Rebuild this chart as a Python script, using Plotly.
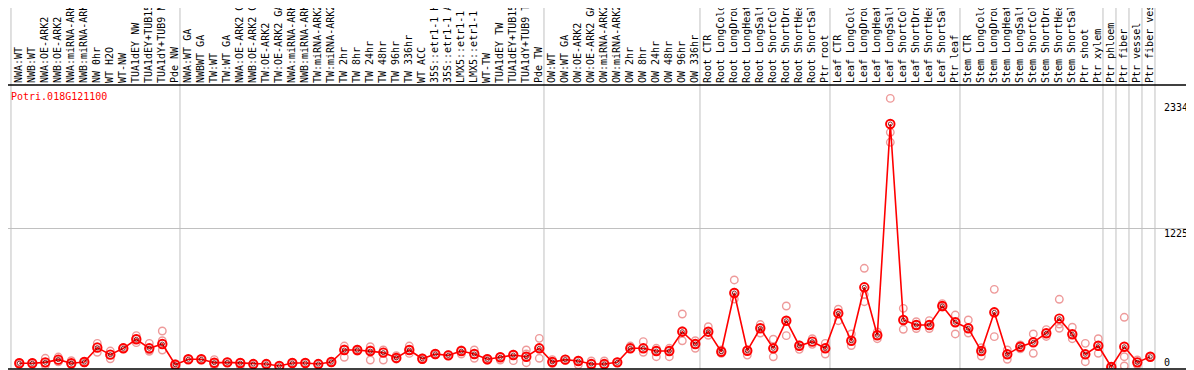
import plotly.graph_objects as go

categories = [
    "NWA:WT", "NWB:WT", "NWA:OE-ARK2", "NWB:OE-ARK2", "NWA:miRNA-ARK2", "NWB:miRNA-ARK2",
    "NW 0hr", "WT H2O", "WT-NW", "TUA1dEY NW", "TUA1dEY+TUB15 NW", "TUA1dY+TUB9 NW", "Pde NW",
    "NWA:WT GA", "NWBWT GA", "TW:WT", "TW:WT GA", "NWA:OE-ARK2 GA", "NWB:OE-ARK2 GA",
    "TW:OE-ARK2", "TW:OE-ARK2 GA", "NWA:miRNA-ARK2", "NWB:miRNA-ARK2", "TW:miRNA-ARK2",
    "TW:miRNA-ARK2", "TW 2hr", "TW 8hr", "TW 24hr", "TW 48hr", "TW 96hr", "TW 336hr", "WT ACC",
    "35S::etr1-1 H2O", "35S::etr1-1 ACC", "LMX5::etr1-1 H2O", "LMX5::etr1-1 ACC", "WT-TW",
    "TUA1dEY TW", "TUA1dEY+TUB15 TW", "TUA1dY+TUB9 TW", "Pde TW",
    "OW:WT", "OW:WT GA", "OW:OE-ARK2", "OW:OE-ARK2 GA", "OW:miRNA-ARK2", "OW:miRNA-ARK2",
    "OW 2hr", "OW 8hr", "OW 24hr", "OW 48hr", "OW 96hr", "OW 336hr",
    "Root CTR", "Root LongCold", "Root LongDrought", "Root LongHeat", "Root LongSalt",
    "Root ShortCold", "Root ShortDrought", "Root ShortHeat", "Root ShortSalt", "Ptr root",
    "Leaf CTR", "Leaf LongCold", "Leaf LongDrought", "Leaf LongHeat", "Leaf LongSalt",
    "Leaf ShortCold", "Leaf ShortDrought", "Leaf ShortHeat", "Leaf ShortSalt", "Ptr leaf",
    "Stem CTR", "Stem LongCold", "Stem LongDrought", "Stem LongHeat", "Stem LongSalt",
    "Stem ShortCold", "Stem ShortDrought", "Stem ShortHeat", "Stem ShortSalt",
    "Ptr shoot", "Ptr xylem", "Ptr phloem", "Ptr fiber", "Ptr vessel", "Ptr fiber vessel",
]

mean_values = [
    33, 33, 41, 65, 33, 44, 171, 109, 165, 245, 165, 203, 20,
    68, 68, 38, 41, 35, 26, 26, 9, 35, 35, 26, 44, 150, 150, 141, 127, 80, 150, 73,
    115, 103, 141, 115, 68, 86, 106, 91, 165,
    44, 65, 53, 26, 26, 41, 165, 165, 141, 141, 312, 203,
    312, 135, 654, 144, 342, 165, 409, 188, 224, 165,
    474, 232, 704, 280, 2147, 415, 371, 371, 539, 395,
    342, 141, 483, 112, 179, 218, 298, 427, 289,
    112, 188, 0, 179, 41, 91,
]

rep_a = [
    25, 28, 77, 88, 55, 50, 209, 141, 170, 277, 209, 318, 3,
    70, 72, 65, 45, 40, 30, 30, 12, 40, 38, 30, 50, 185, 158, 179, 150, 100, 185, 80,
    120, 110, 150, 150, 75, 90, 112, 150, 253,
    65, 70, 60, 53, 53, 45, 185, 224, 165, 165, 468, 232,
    356, 150, 769, 150, 375, 245, 539, 195, 250, 209,
    510, 292, 872, 310, 2373, 518, 400, 410, 560, 459,
    415, 170, 686, 150, 195, 292, 330, 598, 351,
    209, 250, 0, 439, 62, 91,
]

rep_b = [
    33, 35, 35, 60, 30, 44, 180, 110, 165, 250, 150, 232, 20,
    68, 68, 35, 40, 35, 26, 25, 8, 35, 35, 26, 44, 160, 150, 150, 130, 80, 150, 73,
    115, 103, 141, 115, 68, 86, 106, 115, 165,
    44, 65, 53, 26, 26, 41, 165, 165, 141, 141, 320, 203,
    312, 135, 600, 144, 342, 165, 409, 188, 224, 165,
    474, 232, 640, 280, 2073, 415, 371, 371, 539, 395,
    342, 141, 483, 112, 179, 218, 298, 380, 289,
    112, 188, 0, 91, 41, 91,
]

rep_c = [
    40, 38, 15, 45, 20, 38, 130, 73, 160, 215, 139, 150, 30,
    65, 64, 15, 38, 10, 22, 22, 5, 30, 32, 22, 38, 86, 140, 62, 62, 70, 120, 65,
    108, 98, 115, 77, 60, 62, 56, 38, 77,
    30, 60, 20, 0, 20, 38, 160, 130, 91, 91, 232, 165,
    280, 120, 660, 105, 300, 90, 277, 156, 200, 115,
    409, 190, 577, 250, 1985, 333, 340, 340, 530, 292,
    300, 97, 268, 68, 160, 121, 270, 342, 250,
    47, 121, 0, 9, 20, 91,
]

axis_labels = [0, 1225, 2334]
gene_name = "Potri.018G121100"
group_breaks = [-1, 12, 40, 52, 62, 72, 83, 84, 85, 86, 87]

idx = list(range(len(categories)))
MONO = "DejaVu Sans Mono"

fig = go.Figure()

rx, ry = [], []
for rep in (rep_a, rep_b, rep_c):
    rx += idx
    ry += rep
fig.add_trace(go.Scatter(
    x=rx, y=ry, mode="markers", hoverinfo="skip",
    marker=dict(symbol="circle-open", size=7.5, color="#ee9a9a", line=dict(width=1.4)),
))
fig.add_trace(go.Scatter(
    x=idx, y=mean_values, mode="lines+markers",
    line=dict(color="#ff0000", width=1.6),
    marker=dict(symbol="circle-open", size=8.5, color="#ff0000", line=dict(width=1.9)),
))
fig.add_trace(go.Scatter(
    x=idx, y=mean_values, mode="markers", hoverinfo="skip",
    marker=dict(symbol="circle-open", size=4, color="#600000", line=dict(width=0.8)),
))

# page body adds an 8px offset; figure coords = screen coords - 8
W_PLOT = 1185
H_PLOT = 284
TOP = 77
x0 = (0 - 11.3) / 13
x1 = (W_PLOT - 11.3) / 13
y0 = -2 / 0.1132
y1 = 282 / 0.1132
top_paper = 1 + TOP / H_PLOT

shapes = []
for k in group_breaks:
    shapes.append(dict(type="line", xref="x", yref="paper", x0=k + 0.36, x1=k + 0.36,
                       y0=0, y1=top_paper, line=dict(color="#c0c0c0", width=1),
                       layer="below"))
shapes.append(dict(type="line", xref="paper", yref="paper", x0=0, x1=1 + 1 / W_PLOT,
                   y0=1, y1=1, line=dict(color="black", width=1.5)))
shapes.append(dict(type="line", xref="paper", yref="paper", x0=0, x1=1,
                   y0=0, y1=0, line=dict(color="black", width=1.5)))
shapes.append(dict(type="line", xref="paper", yref="paper", x0=1, x1=1,
                   y0=0, y1=top_paper, line=dict(color="black", width=1.5)))

annotations = [dict(xref="paper", yref="paper", x=1 / W_PLOT, y=1 - (97 - 85) / H_PLOT,
                    xanchor="left", yanchor="middle", showarrow=False, text=gene_name,
                    font=dict(family=MONO, size=10, color="#ff0000"))]
for v in axis_labels:
    annotations.append(dict(xref="paper", yref="y", x=1154 / W_PLOT, y=v,
                            xanchor="left", yanchor="middle", showarrow=False,
                            text=str(v) if v == 0 else f"{v}.",
                            yshift=5 if v == 0 else -5,
                            font=dict(family=MONO, size=10, color="black")))

fig.update_layout(
    width=W_PLOT + 1, height=TOP + H_PLOT + 1,
    margin=dict(l=0, r=1, t=TOP, b=1, pad=0, autoexpand=False),
    paper_bgcolor="white", plot_bgcolor="white",
    showlegend=False,
    shapes=shapes, annotations=annotations,
    xaxis=dict(range=[x0, x1], side="top", tickmode="array", tickvals=idx, ticktext=categories,
               tickangle=-90, ticks="", showgrid=False, zeroline=False, showline=False,
               automargin=False,
               tickfont=dict(family=MONO, size=10, color="black"),
               ticklabelshift=-1, ticklabelstandoff=1),
    yaxis=dict(range=[y0, y1], tickmode="array", tickvals=[1225], showticklabels=False,
               automargin=False,
               showgrid=True, gridcolor="#c0c0c0", gridwidth=1, zeroline=False, showline=False),
)

fig.write_html("out.html")
